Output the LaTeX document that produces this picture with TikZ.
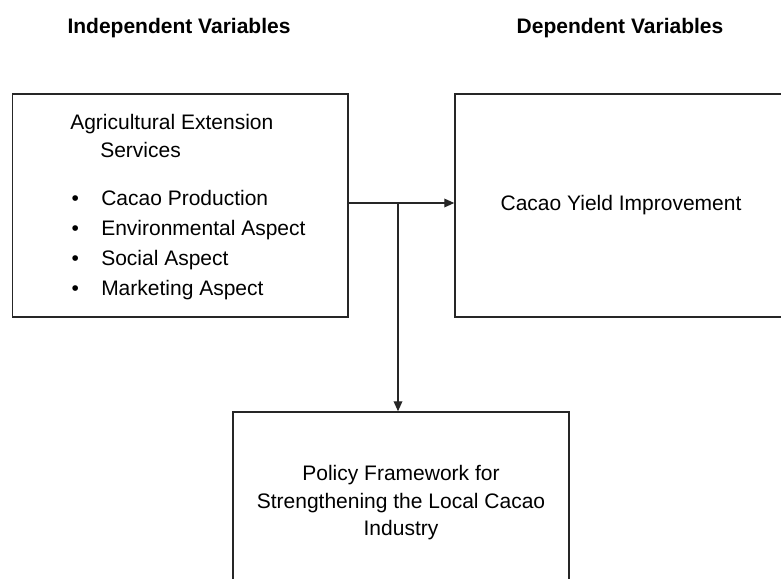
\documentclass[tikz,border=0pt]{standalone}
\usepackage{fontspec}
\setmainfont{Liberation Sans}
\usetikzlibrary{arrows.meta,positioning,calc}

\begin{document}
\begin{tikzpicture}[
    x=0.75pt, y=-0.75pt,
    txt/.style={font=\fontsize{15.75}{22.5}\selectfont},
    head/.style={font=\fontsize{15.75}{22.5}\selectfont\bfseries},
    box/.style={rectangle, draw=black!85, line width=1.1pt, inner sep=0pt, txt},
    link/.style={draw=black!85, line width=1pt, -{Triangle[length=7.5pt,width=6.5pt]}}
]
    % Canvas (right and bottom boxes run off the page)
    \path[use as bounding box, clip] (0,0) rectangle (781,578);

    % Headings
    \node[head] (indep) at (179,28) {Independent Variables};
    \node[head] (dep) at (620,28) {Dependent Variables};

    % Boxes
    \node[box, minimum width=251.5pt, minimum height=167.25pt] (aes) at (180.35,205.5) {};
    \node[box, minimum width=249pt, minimum height=167.25pt] (cyi) at (621,205.5) {Cacao Yield Improvement};
    \node[box, minimum width=252pt, minimum height=136.5pt, align=center,
          font=\fontsize{15.75}{20.6}\selectfont] (pf) at (401,503)
          {Policy Framework for\\Strengthening the Local Cacao\\Industry};

    % Extension services list (anchored at its last baseline)
    \node[txt, align=left, anchor=base west, inner sep=0pt] (aeslist) at (70,295.5)
        {Agricultural Extension\\[-1.5pt]
         \hspace*{22.5pt}Services\\[13.5pt]
         \makebox[23.25pt][l]{\hspace{1pt}\textbullet}Cacao Production\\
         \makebox[23.25pt][l]{\hspace{1pt}\textbullet}Environmental Aspect\\
         \makebox[23.25pt][l]{\hspace{1pt}\textbullet}Social Aspect\\
         \makebox[23.25pt][l]{\hspace{1pt}\textbullet}Marketing Aspect};

    % Connectors
    \coordinate (split) at (398,203);
    \draw[link] (aes.east |- split) -- (cyi.west |- split);
    \draw[link] (split) -- (split |- pf.north);
\end{tikzpicture}
\end{document}
